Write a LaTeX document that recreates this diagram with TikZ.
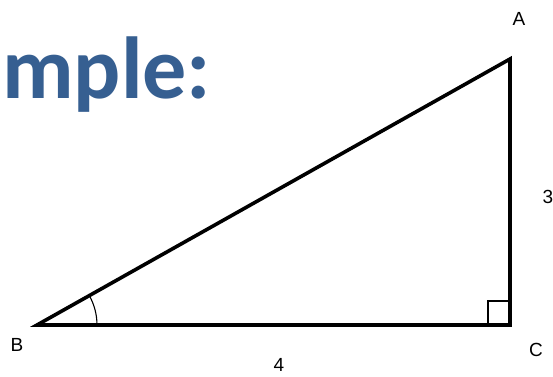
\documentclass[tikz,border=0pt]{standalone}
\usepackage{fontspec}
\setmainfont{Liberation Sans}
\newfontfamily\titlefont{Carlito}
\usetikzlibrary{angles}
\definecolor{titleblue}{RGB}{54,95,145}

\begin{document}
\begin{tikzpicture}[x=1pt,y=-1pt,line join=miter]
\useasboundingbox (0,0) rectangle (553,376);

% Title (cut off on the left)
\node[anchor=base west,inner sep=0pt,text=titleblue,font=\titlefont\bfseries\fontsize{88}{90}\selectfont] (title) at (2,98) {mple:};

% ---- Vertices ----
\coordinate (B) at (37,325);
\coordinate (C) at (510,325);
\coordinate (A) at (510,59);

% ---- Triangle ----
\draw[line width=3.6pt] (B) -- (C) -- (A) -- cycle;

% right angle at C
\draw[line width=1.3pt] (488,301) rectangle (C);

% angle at B
\pic[draw,line width=1.1pt,angle radius=60pt] {angle=C--B--A};

% ---- Labels ----
\node[font=\fontsize{19}{20}\selectfont] (labA) at (519,19) {A};
\node[font=\fontsize{19}{20}\selectfont] (labB) at (17,345) {B};
\node[font=\fontsize{19}{20}\selectfont] (labC) at (536,350) {C};
\node[font=\fontsize{19}{20}\selectfont] (lab3) at (548,197) {3};
\node[font=\fontsize{19}{20}\selectfont] (lab4) at (279,365) {4};

\end{tikzpicture}
\end{document}
